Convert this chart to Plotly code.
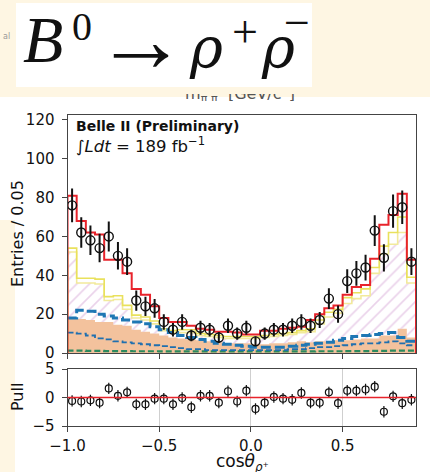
import numpy as np
import plotly.graph_objects as go

W, H = 430, 472

# Binning of cos(theta_rho+): 38 bins of width 0.05 on [-1.0, 0.9]
bin_edges = np.round(np.linspace(-1.0, 0.9, 39), 3)
bin_centers = (bin_edges[:-1] + bin_edges[1:]) / 2

# Observed candidates per bin
data_counts = [76, 62, 58, 54, 60, 50, 47, 27, 24, 23, 16, 12, 16, 9, 13, 12, 8, 14, 10, 13,
               6, 10, 12, 12, 14, 16, 14, 17, 28, 20, 37, 41, 44, 63, 49, 73, 75, 47]

# Total fit model
fit_total = [81, 68, 62, 61, 48, 48, 41, 33, 30, 24, 18, 16, 16, 14, 12.5, 12, 11, 11, 10.5, 9.5,
             9.5, 11.5, 11.5, 12.5, 13, 13.5, 17, 20, 23, 24.5, 30, 34, 35, 48.5, 66, 71, 82, 48]

# Stacked background components (cumulative tops)
yellow_upper = [54, 38.5, 38.5, 38, 29, 29.5, 24.5, 19.5, 18.5, 16.5, 12.5, 11.5, 12, 12, 10, 9.5,
                9, 8.5, 8.5, 8.5, 8.5, 9, 9.5, 10, 10.5, 11.5, 12.5, 17, 21, 22.5, 28.5, 31, 33, 44,
                55, 62, 70, 39]
yellow_lower = [52, 36, 36, 35.5, 27, 27.5, 22.5, 18, 17, 15, 11.5, 10.5, 10.5, 10.5, 9, 8.5, 8,
                7.5, 7.5, 7.5, 7.5, 8, 8.5, 9, 9.5, 10.5, 11, 15, 18.5, 20.5, 25.5, 28, 29.5, 41,
                51, 56, 62, 36]
continuum = [18, 17.5, 17, 16, 16, 14.5, 14, 12, 11, 10, 9, 8, 7.5, 7, 6.5, 6, 5.5, 5, 5, 5, 4.5,
             4.5, 5, 5, 5.5, 6, 5.5, 6, 6, 6.5, 6.5, 7, 7.5, 7.5, 9, 9, 12.5, 8]

# Individual (unstacked) components
blue_thick = [18, 22, 21.5, 20, 19, 18, 17, 16, 15, 13.5, 12, 10.5, 9, 8, 7, 6, 5, 4.5, 4, 3.5, 3,
              3, 3, 3, 3.5, 4, 4.5, 5, 5.5, 6.5, 7.5, 8.5, 9, 9.5, 10, 10.5, 8, 6]
blue_thin = [10.5, 10, 9, 7.5, 7, 6, 5.5, 5, 4.5, 4, 3.5, 3, 2.5, 2, 2, 1.5, 1.5, 1.5, 1.5, 1.5,
             1.5, 1.5, 1.5, 1.5, 2, 2, 2.5, 3, 3, 3.5, 4, 4.5, 5, 5, 5.5, 6, 5, 4]
green_comp = [1.2, 1.2, 1.1, 1.1, 1.0, 1.0, 1.0, 0.9, 0.9, 0.9, 0.8, 0.8, 0.8, 0.8, 0.8, 0.8, 0.8,
              0.8, 0.8, 0.8, 0.8, 0.8, 0.8, 0.8, 0.8, 0.8, 0.8, 0.9, 0.9, 0.9, 1.0, 1.0, 1.0, 1.1,
              1.1, 1.2, 1.2, 1.2]

# Pull per bin
pulls = [-0.6, -0.7, -0.5, -0.9, 1.6, 0.3, 0.9, -1.2, -1.2, -0.2, -0.2, -1.2, -0.1, -1.7, 0.3, 0.3,
         -0.9, 1.1, -0.7, 1.2, -2.0, -0.9, 0.1, -0.2, -0.4, 0.8, -0.9, -0.9, 0.9, -1.0, 1.2, 1.2,
         1.4, 1.9, -2.5, 0.2, -1.0, -0.4]

x_ticks = [-1.0, -0.5, 0.0, 0.5]
x_ticklabels = ["\u22121.0", "\u22120.5", "0.0", "0.5"]
y_ticks = [0, 20, 40, 60, 80, 100, 120]
pull_ticks = [-5, 0, 5]
pull_ticklabels = ["\u22125", "0", "5"]

CREAM = "#FEF6E3"
FONT = "DejaVu Sans"
SERIF = "Liberation Serif"
DSERIF = "DejaVu Serif"


def step_open(vals):
    """Step outline over the bins (for fills)."""
    return list(bin_edges), list(vals) + [vals[-1]]


def step_closed(vals):
    """Histogram outline that drops to zero at both outer edges."""
    xs = [bin_edges[0]] + list(bin_edges[:-1]) + [bin_edges[-1]]
    ys = [0] + list(vals) + [0]
    return xs, ys


def fx(p):
    return p / W


def fy(p):
    return 1 - p / H


fig = go.Figure()

# Continuum (filled)
xs, ys = step_open(continuum)
fig.add_trace(go.Scatter(x=xs, y=ys, mode="lines", line=dict(width=0, shape="hv"),
                         fill="tozeroy", fillcolor="#F3C29D", xaxis="x", yaxis="y",
                         hoverinfo="skip"))
# Hatched component stacked on top
xs, ys = step_open(yellow_lower)
fig.add_trace(go.Scatter(x=xs, y=ys, mode="lines", line=dict(width=0, shape="hv"),
                         fill="tonexty", fillcolor="rgba(255,255,255,0)",
                         fillpattern=dict(shape="/", fgcolor="#D6A6D6", bgcolor="rgba(255,255,255,0)",
                                          size=9, solidity=0.18),
                         xaxis="x", yaxis="y", hoverinfo="skip"))
# Yellow outlines
xs, ys = step_closed(yellow_lower)
fig.add_trace(go.Scatter(x=xs, y=ys, mode="lines", line=dict(color="#F2EA9C", width=1.6, shape="hv"),
                         xaxis="x", yaxis="y", hoverinfo="skip"))
xs, ys = step_closed(yellow_upper)
fig.add_trace(go.Scatter(x=xs, y=ys, mode="lines", line=dict(color="#E9E15C", width=1.6, shape="hv"),
                         xaxis="x", yaxis="y", hoverinfo="skip"))
# Unstacked components
xs, ys = step_open(green_comp)
fig.add_trace(go.Scatter(x=xs, y=ys, mode="lines",
                         line=dict(color="#2B8A5E", width=2.2, shape="hv", dash="6px,3px"),
                         xaxis="x", yaxis="y", hoverinfo="skip"))
xs, ys = step_open(blue_thin)
fig.add_trace(go.Scatter(x=xs, y=ys, mode="lines",
                         line=dict(color="#1F6FAF", width=1.8, shape="hv", dash="6px,3px"),
                         xaxis="x", yaxis="y", hoverinfo="skip"))
xs, ys = step_open(blue_thick)
fig.add_trace(go.Scatter(x=xs, y=ys, mode="lines",
                         line=dict(color="#1F77B4", width=3, shape="hv", dash="10px,4px"),
                         xaxis="x", yaxis="y", hoverinfo="skip"))
# Total fit
xs, ys = step_closed(fit_total)
fig.add_trace(go.Scatter(x=xs, y=ys, mode="lines", line=dict(color="#E8232B", width=2, shape="hv"),
                         xaxis="x", yaxis="y", hoverinfo="skip"))
# Data
fig.add_trace(go.Scatter(x=bin_centers, y=data_counts, mode="markers",
                         marker=dict(symbol="circle-open", size=9, color="#111",
                                     line=dict(width=1.4, color="#111")),
                         error_y=dict(type="data", array=list(np.sqrt(data_counts)),
                                      color="#111", thickness=2, width=0),
                         xaxis="x", yaxis="y", hoverinfo="skip"))

# Pull panel
fig.add_trace(go.Scatter(x=bin_centers, y=pulls, mode="markers",
                         marker=dict(symbol="circle-open", size=7, color="#111",
                                     line=dict(width=1.2, color="#111")),
                         error_y=dict(type="constant", value=1, color="#111", thickness=1.2, width=0),
                         xaxis="x2", yaxis="y2", hoverinfo="skip"))

# Axis label of the panel above, mostly hidden under the banner (only its lower edge shows)
fig.add_trace(go.Scatter(x=[0.5], y=[0.9], mode="text",
                         text=["m<sub>\u03c0 \u03c0</sub>  [GeV/c<sup>2</sup>]"],
                         textposition="middle center", cliponaxis=True,
                         textfont=dict(family=FONT, size=16, color="#555"),
                         xaxis="x3", yaxis="y3", hoverinfo="skip"))

x_dom = [fx(67.5), fx(416)]
frame = dict(showline=True, linecolor="#444", linewidth=1, mirror=True, ticks="outside",
             ticklen=5, tickwidth=1, tickcolor="#444", zeroline=False, automargin=False,
             tickfont=dict(family=FONT, size=15, color="#111"))
hidden = dict(visible=False, showgrid=False, zeroline=False, automargin=False,
              fixedrange=True, range=[0, 1])

fig.update_layout(
    width=W, height=H, margin=dict(l=0, r=0, t=0, b=0, pad=0), autosize=False,
    paper_bgcolor=CREAM, plot_bgcolor="rgba(0,0,0,0)", showlegend=False,
    xaxis=dict(domain=x_dom, range=[-1.0, 0.9], anchor="y", tickvals=x_ticks,
               showticklabels=False, showgrid=False, **frame),
    yaxis=dict(domain=[fy(353), fy(115)], range=[0, 122.5], anchor="x", tickvals=y_ticks,
               showgrid=False, ticklabelstandoff=4, **frame),
    xaxis2=dict(domain=x_dom, range=[-1.0, 0.9], anchor="y2", tickvals=x_ticks,
                ticktext=x_ticklabels, showgrid=True, gridcolor="#CFCFCF", gridwidth=1,
                ticklabelstandoff=1, **frame),
    yaxis2=dict(domain=[fy(426), fy(369)], range=[-5, 5], anchor="x2", tickvals=pull_ticks,
                ticktext=pull_ticklabels, showgrid=False, ticklabelstandoff=4, **frame),
    xaxis3=dict(domain=[fx(140), fx(340)], anchor="y3", **hidden),
    yaxis3=dict(domain=[fy(101), fy(94)], anchor="x3", **hidden),
)

shapes = [
    # white sheet behind the chart
    dict(type="rect", xref="paper", yref="paper", x0=0, x1=1, y0=0, y1=fy(97),
         fillcolor="white", line=dict(width=0), layer="below"),
    # left margin strip
    dict(type="rect", xref="paper", yref="paper", x0=0, x1=fx(15), y0=0, y1=fy(220),
         fillcolor=CREAM, line=dict(width=0), layer="below"),
    # title box
    dict(type="rect", xref="paper", yref="paper", x0=fx(16), x1=fx(312), y0=fy(87), y1=fy(3),
         fillcolor="white", line=dict(width=0), layer="below"),
    # zero line of the pull panel
    dict(type="line", xref="x2 domain", yref="y2", x0=0, x1=1, y0=0, y1=0,
         line=dict(color="#E8232B", width=1.6), layer="above"),
]
fig.update_layout(shapes=shapes)


def txt(text, x, y, size, family=FONT, xanchor="center", angle=0, color="#111"):
    return dict(text=text, xref="paper", yref="paper", x=fx(x), y=fy(y), xanchor=xanchor,
                yanchor="middle", textangle=angle, showarrow=False,
                font=dict(family=family, size=size, color=color))


annotations = [
    # decay title, set piece by piece
    txt("<i>B</i>", 43, 39, 66, SERIF),
    txt("0", 82, 27, 40, SERIF),
    txt("\u2192", 141, 40, 92, SERIF),
    txt("<i>\u03c1</i>", 206, 48, 56, DSERIF),
    txt("+", 245, 31, 46, SERIF),
    txt("<i>\u03c1</i>", 278, 48, 56, DSERIF),
    txt("\u2212", 297, 23, 46, SERIF),
    # experiment label
    txt("<b>Belle II (Preliminary)</b>", 74, 126, 14, xanchor="left"),
    txt("\u222b<i>Ldt</i> = 189 fb<sup>\u22121</sup>", 74, 145, 16.5, xanchor="left"),
    # axis titles
    txt("Entries / 0.05", 17, 234, 16, angle=-90),
    txt("Pull", 17, 397, 16, angle=-90),
    txt("cos<i>\u03b8</i><sub><i>\u03c1</i>\u207a</sub>", 242, 462, 17),
    txt("al", 1, 36, 8, xanchor="left", color="#999"),
]
fig.update_layout(annotations=annotations)

fig.write_html("out.html")
